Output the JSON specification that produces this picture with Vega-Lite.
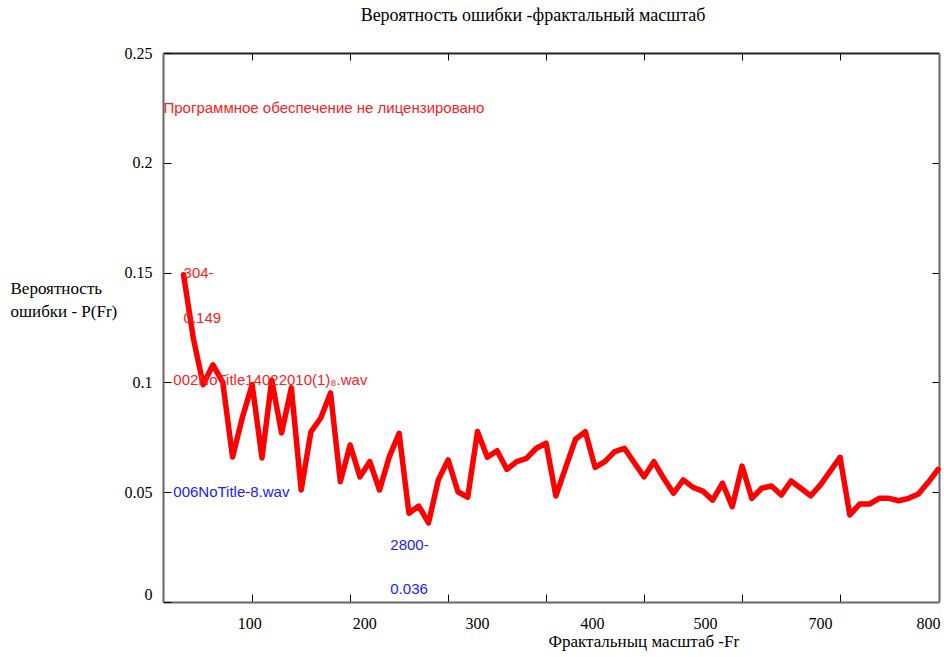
{
  "$schema": "https://vega.github.io/schema/vega-lite/v6.json",
  "width": 776,
  "height": 549,
  "autosize": {"type": "none"},
  "padding": {"left": 163, "top": 53, "right": 5, "bottom": 55},
  "background": "#ffffff",
  "config": {"view": {"stroke": null}},
  "title": {
    "text": "Вероятность ошибки -фрактальный масштаб",
    "font": "Liberation Serif",
    "fontSize": 18,
    "fontWeight": "normal",
    "color": "#000000",
    "anchor": "middle",
    "dx": -18,
    "offset": 20
  },
  "datasets": {
    "curve": [
      {"Fr": 30, "P": 0.149}, {"Fr": 40, "P": 0.12}, {"Fr": 50, "P": 0.099}, {"Fr": 60, "P": 0.108},
      {"Fr": 70, "P": 0.1}, {"Fr": 80, "P": 0.066}, {"Fr": 90, "P": 0.084}, {"Fr": 100, "P": 0.099},
      {"Fr": 110, "P": 0.0656}, {"Fr": 120, "P": 0.101}, {"Fr": 130, "P": 0.077}, {"Fr": 140, "P": 0.0975},
      {"Fr": 150, "P": 0.051}, {"Fr": 160, "P": 0.0775}, {"Fr": 170, "P": 0.0838}, {"Fr": 180, "P": 0.0952},
      {"Fr": 190, "P": 0.0548}, {"Fr": 200, "P": 0.0715}, {"Fr": 210, "P": 0.057}, {"Fr": 220, "P": 0.0639},
      {"Fr": 230, "P": 0.051}, {"Fr": 240, "P": 0.0662}, {"Fr": 250, "P": 0.0768}, {"Fr": 260, "P": 0.0404},
      {"Fr": 270, "P": 0.0437}, {"Fr": 280, "P": 0.036}, {"Fr": 290, "P": 0.0556}, {"Fr": 300, "P": 0.0647},
      {"Fr": 310, "P": 0.0502}, {"Fr": 320, "P": 0.0477}, {"Fr": 330, "P": 0.0776}, {"Fr": 340, "P": 0.0659},
      {"Fr": 350, "P": 0.0689}, {"Fr": 360, "P": 0.0604}, {"Fr": 370, "P": 0.0639}, {"Fr": 380, "P": 0.0654},
      {"Fr": 390, "P": 0.07}, {"Fr": 400, "P": 0.0723}, {"Fr": 410, "P": 0.0483}, {"Fr": 420, "P": 0.0613},
      {"Fr": 430, "P": 0.0741}, {"Fr": 440, "P": 0.0776}, {"Fr": 450, "P": 0.0613}, {"Fr": 460, "P": 0.0639},
      {"Fr": 470, "P": 0.0685}, {"Fr": 480, "P": 0.07}, {"Fr": 490, "P": 0.0634}, {"Fr": 500, "P": 0.057},
      {"Fr": 510, "P": 0.0639}, {"Fr": 520, "P": 0.0563}, {"Fr": 530, "P": 0.0495}, {"Fr": 540, "P": 0.0556},
      {"Fr": 550, "P": 0.0522}, {"Fr": 560, "P": 0.0505}, {"Fr": 570, "P": 0.0464}, {"Fr": 580, "P": 0.0541},
      {"Fr": 590, "P": 0.0434}, {"Fr": 600, "P": 0.0619}, {"Fr": 610, "P": 0.0472}, {"Fr": 620, "P": 0.0518},
      {"Fr": 630, "P": 0.0528}, {"Fr": 640, "P": 0.0487}, {"Fr": 650, "P": 0.0551}, {"Fr": 660, "P": 0.0518},
      {"Fr": 670, "P": 0.0483}, {"Fr": 680, "P": 0.0533}, {"Fr": 690, "P": 0.0596}, {"Fr": 700, "P": 0.0659},
      {"Fr": 710, "P": 0.0396}, {"Fr": 720, "P": 0.0446}, {"Fr": 730, "P": 0.0446}, {"Fr": 740, "P": 0.0472},
      {"Fr": 750, "P": 0.0472}, {"Fr": 760, "P": 0.0461}, {"Fr": 770, "P": 0.0472}, {"Fr": 780, "P": 0.0492},
      {"Fr": 790, "P": 0.0545}, {"Fr": 800, "P": 0.0604}
    ],
    "redNotes": [
      {"Fr": 9.5, "P": 0.225, "text": "Программное обеспечение не лицензировано"},
      {"Fr": 30, "P": 0.15, "text": "304-"},
      {"Fr": 30, "P": 0.1293, "text": "0.149"},
      {"Fr": 19.5, "P": 0.101, "text": "002NoTitle14022010(1)₈.wav"}
    ],
    "blueNotes": [
      {"Fr": 19.5, "P": 0.05, "text": "006NoTitle-8.wav"},
      {"Fr": 241, "P": 0.026, "text": "2800-"},
      {"Fr": 241, "P": 0.006, "text": "0.036"}
    ]
  },
  "resolve": {"axis": {"x": "independent", "y": "independent"}},
  "layer": [
    {
      "mark": {"type": "rule", "color": "#0000ff", "strokeWidth": 4},
      "encoding": {
        "y": {"datum": 0.15, "type": "quantitative", "scale": {"domain": [0, 0.25], "nice": false, "zero": false}, "axis": null}
      }
    },
    {
      "data": {"name": "curve"},
      "mark": {"type": "line", "color": "#ff0000", "strokeWidth": 5.5, "strokeJoin": "round", "strokeCap": "round"},
      "encoding": {
        "x": {
          "field": "Fr", "type": "quantitative",
          "scale": {"domain": [9, 801], "nice": false, "zero": false},
          "axis": {
            "orient": "bottom",
            "values": [100, 200, 300, 400, 500, 600, 700],
            "tickSize": -8, "tickColor": "#000000", "tickWidth": 1,
            "domainColor": "#666666", "domainWidth": 2,
            "grid": false,
            "labelFont": "Liberation Serif", "labelFontSize": 16, "labelColor": "#000000",
            "labelPadding": 21, "labelFlush": false, "labelOverlap": false,
            "labelExpr": "datum.value >= 600 ? format(datum.value + 100, 'd') : format(datum.value, 'd')",
            "labelOffset": {
              "condition": [
                {"test": "datum.value == 100", "value": -3},
                {"test": "datum.value == 200", "value": 14},
                {"test": "datum.value == 300", "value": 29},
                {"test": "datum.value == 400", "value": 46},
                {"test": "datum.value == 500", "value": 61},
                {"test": "datum.value == 600", "value": 78}
              ],
              "value": 88
            },
            "title": "Фрактальныц масштаб -Fr",
            "titleFont": "Liberation Serif", "titleFontSize": 17, "titleFontWeight": "normal", "titleColor": "#000000",
            "titleAlign": "left", "titleBaseline": "middle", "titleX": 385, "titleY": 39
          }
        },
        "y": {
          "field": "P", "type": "quantitative",
          "scale": {"domain": [0, 0.25], "nice": false, "zero": false},
          "axis": {
            "orient": "left",
            "values": [0, 0.05, 0.1, 0.15, 0.2, 0.25],
            "format": "~g",
            "tickSize": -8, "tickColor": "#000000", "tickWidth": 1,
            "domainColor": "#666666", "domainWidth": 2,
            "grid": false,
            "labelFont": "Liberation Serif", "labelFontSize": 16, "labelColor": "#000000",
            "labelPadding": 19, "labelFlush": false, "labelOverlap": false,
            "labelBaseline": {"condition": {"test": "datum.value == 0", "value": "bottom"}, "value": "middle"},
            "title": ["Вероятность", "ошибки - P(Fr)"],
            "titleFont": "Liberation Serif", "titleFontSize": 17, "titleFontWeight": "normal", "titleColor": "#000000",
            "titleAngle": 0, "titleAlign": "left", "titleBaseline": "top", "titleLineHeight": 23,
            "titleX": -153, "titleY": 227
          }
        }
      }
    },
    {
      "data": {"name": "redNotes"},
      "mark": {"type": "text", "align": "left", "baseline": "middle", "font": "Liberation Sans", "fontSize": 15, "color": "#ff2020"},
      "encoding": {
        "x": {
          "field": "Fr", "type": "quantitative",
          "axis": {
            "orient": "top", "values": [100, 200, 300, 400, 500, 600, 700],
            "tickSize": -7, "tickColor": "#000000", "tickWidth": 1,
            "domainColor": "#222222", "domainWidth": 2, "labels": false, "title": null, "grid": false
          }
        },
        "y": {
          "field": "P", "type": "quantitative",
          "axis": {
            "orient": "right", "values": [0.05, 0.1, 0.15, 0.2],
            "tickSize": -7, "tickColor": "#000000", "tickWidth": 1,
            "domainColor": "#666666", "domainWidth": 2, "labels": false, "title": null, "grid": false
          }
        },
        "text": {"field": "text"}
      }
    },
    {
      "data": {"name": "blueNotes"},
      "mark": {"type": "text", "align": "left", "baseline": "middle", "font": "Liberation Sans", "fontSize": 15, "color": "#2020ff"},
      "encoding": {
        "x": {"field": "Fr", "type": "quantitative", "axis": null},
        "y": {"field": "P", "type": "quantitative", "axis": null},
        "text": {"field": "text"}
      }
    }
  ]
}
